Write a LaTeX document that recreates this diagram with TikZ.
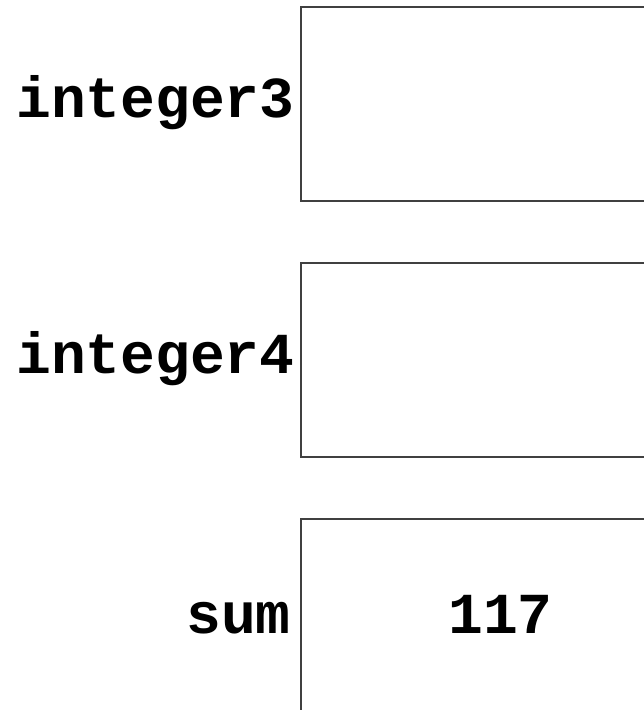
\documentclass[tikz,border=0pt]{standalone}
\usepackage{fontspec}
\setmonofont{Liberation Mono}
\begin{document}
\begin{tikzpicture}[x=1pt,y=-1pt,
  cell/.style={draw=black!75, line width=1.3pt},
  varname/.style={font=\ttfamily\bfseries\fontsize{58}{58}\selectfont, inner sep=0pt, anchor=base west},
  value/.style={font=\ttfamily\bfseries\fontsize{58}{58}\selectfont, inner sep=0pt, anchor=base west}]
  \useasboundingbox (0,0) rectangle (644,710);
  % memory cells, open on the right and bottom edges
  \draw[cell] (660,7) -- (301,7) -- (301,201) -- (660,201);
  \draw[cell] (660,263) -- (301,263) -- (301,457) -- (660,457);
  \draw[cell] (660,519) -- (301,519) -- (301,720);
  % variable names
  \node[varname] (n3) at (16,117) {integer3};
  \node[varname] (n4) at (16,373) {integer4};
  \node[varname] (ns) at (186,633) {sum};
  % stored value
  \node[value] (v) at (448,633) {117};
\end{tikzpicture}
\end{document}
